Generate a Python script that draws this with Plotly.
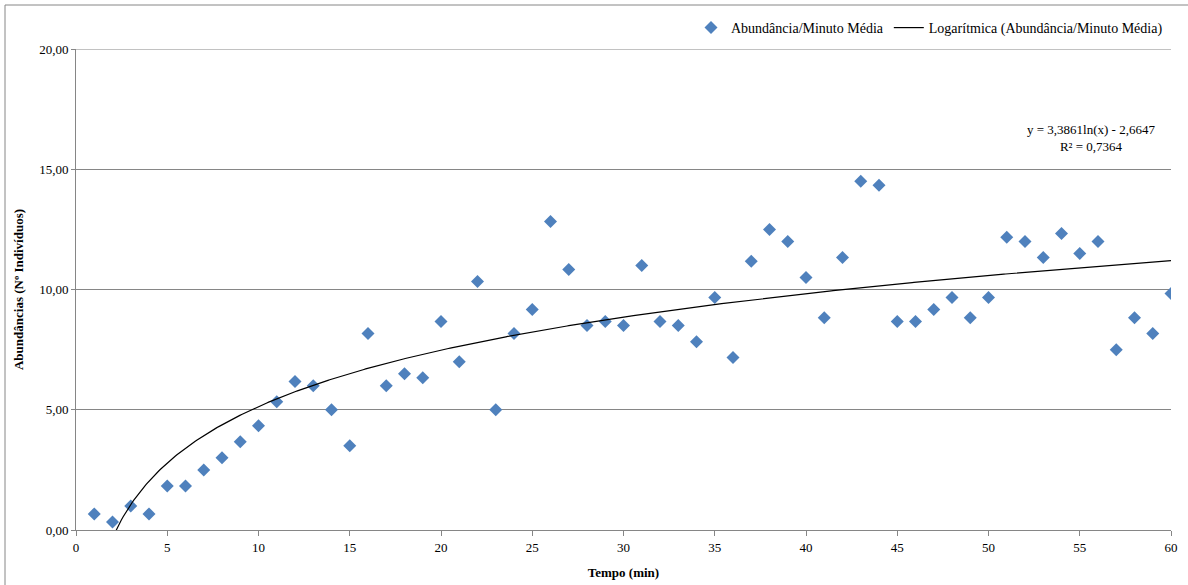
import numpy as np
import plotly.graph_objects as go

# Mean abundance per minute
minutos = list(range(1, 61))
abundancia_media = [
    0.67, 0.33, 1.00, 0.67, 1.83, 1.83, 2.50, 3.00, 3.67, 4.33,
    5.33, 6.17, 6.00, 5.00, 3.50, 8.17, 6.00, 6.50, 6.33, 8.67,
    7.00, 10.33, 5.00, 8.17, 9.17, 12.83, 10.83, 8.50, 8.67, 8.50,
    11.00, 8.67, 8.50, 7.83, 9.67, 7.17, 11.17, 12.50, 12.00, 10.50,
    8.83, 11.33, 14.50, 14.33, 8.67, 8.67, 9.17, 9.67, 8.83, 9.67,
    12.17, 12.00, 11.33, 12.33, 11.50, 12.00, 7.50, 8.83, 8.17, 9.83,
]

# Logarithmic trendline coefficients
coef_a = 3.3861
coef_b = -2.6647
r2 = 0.7364

x_trend = np.linspace(1, 60, 600)
y_trend = coef_a * np.log(x_trend) + coef_b

W, H = 1188, 585
L, R, T, B = 76, 17, 49, 55
pw, ph = W - L - R, H - T - B

def px_x(p):
    return (p - L) / pw

def px_y(p):
    return (H - B - p) / ph

font_family = "Liberation Serif"
grid_col = "#868686"

fig = go.Figure()
fig.add_trace(go.Scatter(
    x=minutos, y=abundancia_media, mode="markers",
    name="Abundância/Minuto Média",
    marker=dict(symbol="diamond", size=10, color="#4F81BD",
                line=dict(width=0)),
))
fig.add_trace(go.Scatter(
    x=x_trend, y=y_trend, mode="lines",
    name="Logarítmica (Abundância/Minuto Média)",
    line=dict(color="black", width=1.2),
))

fmt = lambda v: f"{v:.4f}".replace(".", ",")
fig.add_annotation(
    x=px_x(1091), y=px_y(138), xref="paper", yref="paper",
    xanchor="center", yanchor="middle",
    text=f"y = {fmt(coef_a)}ln(x) - {fmt(abs(coef_b))}<br>R² = {fmt(r2)}",
    showarrow=False, align="center",
    font=dict(family=font_family, size=13, color="black"),
)

# Top gridline at the end of the value range
fig.add_shape(
    type="line", xref="x", yref="y", x0=0, x1=60, y0=20, y1=20,
    line=dict(color=grid_col, width=1), layer="below",
)

# Chart area border
fig.add_shape(
    type="rect", xref="paper", yref="paper",
    x0=px_x(5), x1=px_x(1200), y0=px_y(5), y1=px_y(600),
    line=dict(color=grid_col, width=1), fillcolor="rgba(0,0,0,0)",
    layer="below",
)

fig.update_layout(
    width=W, height=H,
    margin=dict(l=L, r=R, t=T, b=B, autoexpand=False),
    paper_bgcolor="white", plot_bgcolor="white",
    separators=",.",
    font=dict(family=font_family, size=13, color="black"),
    showlegend=True,
    legend=dict(
        orientation="h", x=px_x(1168), xanchor="right",
        y=px_y(28), yanchor="middle",
        font=dict(family=font_family, size=14, color="black"),
        bgcolor="rgba(0,0,0,0)", itemwidth=30,
    ),
    xaxis=dict(
        range=[0, 60], tickmode="linear", tick0=0, dtick=5,
        showgrid=False, zeroline=False, automargin=False,
        showline=True, linecolor=grid_col, linewidth=1,
        ticks="outside", ticklen=5, tickcolor=grid_col,
        tickfont=dict(family=font_family, size=13, color="black"),
        title=dict(text="<b>Tempo (min)</b>", standoff=14,
                   font=dict(family=font_family, size=13, color="black")),
    ),
    yaxis=dict(
        range=[0, 20], tickmode="linear", tick0=0, dtick=5,
        tickformat=".2f", automargin=False,
        showgrid=True, gridcolor=grid_col, gridwidth=1,
        zeroline=False,
        showline=True, linecolor=grid_col, linewidth=1,
        ticks="outside", ticklen=4, tickcolor=grid_col,
        tickfont=dict(family=font_family, size=13, color="black"),
        title=dict(text="<b>Abundâncias (Nº Indivíduos)</b>", standoff=12,
                   font=dict(family=font_family, size=13, color="black")),
    ),
)

fig.write_html("out.html")
